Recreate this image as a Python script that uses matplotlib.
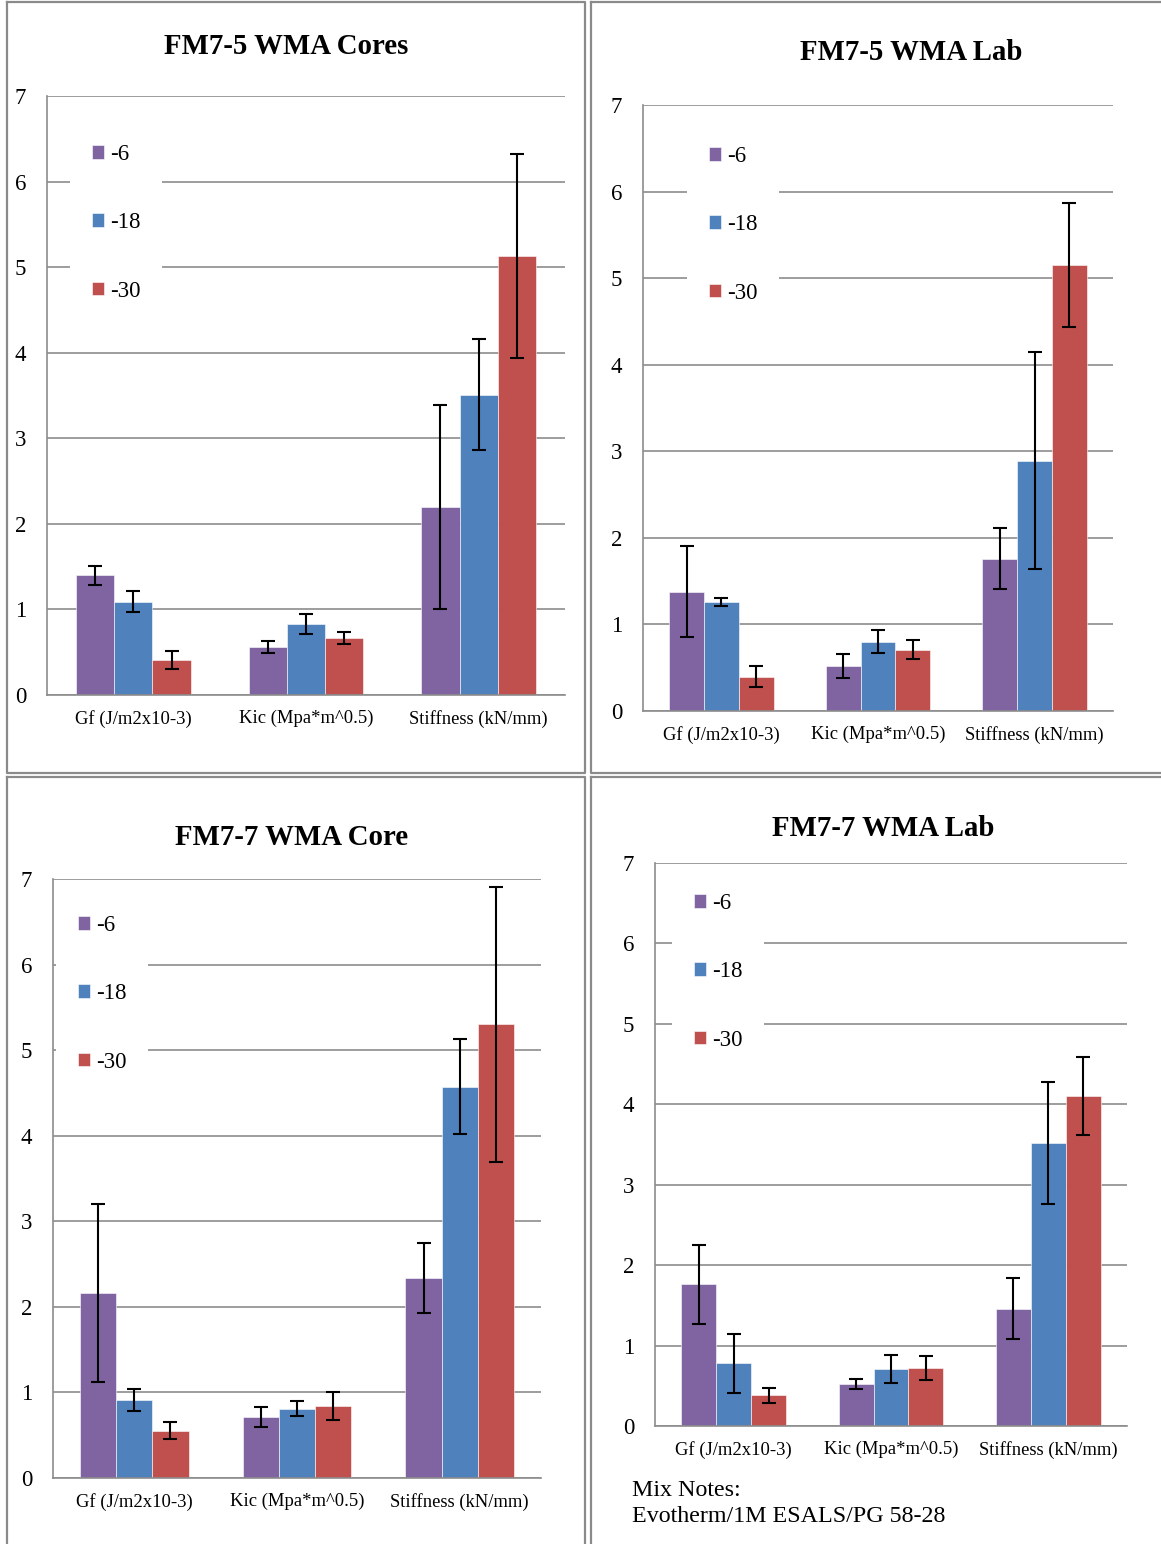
import matplotlib
matplotlib.use("Agg")
import matplotlib.pyplot as plt
import numpy as np
from matplotlib.lines import Line2D

plt.rcParams['font.family'] = ['Liberation Serif', 'DejaVu Serif']

W, H = 1161, 1544

categories = ["Gf (J/m2x10-3)", "Kic (Mpa*m^0.5)", "Stiffness (kN/mm)"]
series = ["-6", "-18", "-30"]
colors = ["#8064A2", "#4F81BD", "#C0504D"]
yticks = [0, 1, 2, 3, 4, 5, 6, 7]

# FM7-5 WMA Cores
cores75_m6 = [1.40, 0.56, 2.20]
cores75_e6 = [0.11, 0.07, 1.19]
cores75_m18 = [1.09, 0.83, 3.51]
cores75_e18 = [0.125, 0.12, 0.645]
cores75_m30 = [0.41, 0.665, 5.13]
cores75_e30 = [0.11, 0.07, 1.19]

# FM7-5 WMA Lab
lab75_m6 = [1.38, 0.52, 1.76]
lab75_e6 = [0.53, 0.14, 0.355]
lab75_m18 = [1.26, 0.80, 2.89]
lab75_e18 = [0.05, 0.13, 1.255]
lab75_m30 = [0.395, 0.71, 5.15]
lab75_e30 = [0.12, 0.115, 0.715]

# FM7-7 WMA Core
core77_m6 = [2.16, 0.715, 2.34]
core77_e6 = [1.04, 0.12, 0.41]
core77_m18 = [0.91, 0.81, 4.57]
core77_e18 = [0.13, 0.09, 0.555]
core77_m30 = [0.55, 0.84, 5.30]
core77_e30 = [0.10, 0.165, 1.61]

# FM7-7 WMA Lab
lab77_m6 = [1.76, 0.52, 1.46]
lab77_e6 = [0.49, 0.06, 0.38]
lab77_m18 = [0.78, 0.71, 3.52]
lab77_e18 = [0.37, 0.175, 0.76]
lab77_m30 = [0.38, 0.72, 4.10]
lab77_e30 = [0.09, 0.145, 0.485]

panels = [
    dict(title="FM7-5 WMA Cores", title_xy=(286, 46),
         means=[cores75_m6, cores75_m18, cores75_m30],
         errs=[cores75_e6, cores75_e18, cores75_e30],
         ax_px=(47, 96, 565, 695), leg_px=(70, 122)),
    dict(title="FM7-5 WMA Lab", title_xy=(911, 52),
         means=[lab75_m6, lab75_m18, lab75_m30],
         errs=[lab75_e6, lab75_e18, lab75_e30],
         ax_px=(643, 105, 1113, 711), leg_px=(687, 124)),
    dict(title="FM7-7 WMA Core", title_xy=(292, 837),
         means=[core77_m6, core77_m18, core77_m30],
         errs=[core77_e6, core77_e18, core77_e30],
         ax_px=(53, 879, 541, 1478), leg_px=(56, 893)),
    dict(title="FM7-7 WMA Lab", title_xy=(883, 828),
         means=[lab77_m6, lab77_m18, lab77_m30],
         errs=[lab77_e6, lab77_e18, lab77_e30],
         ax_px=(655, 863, 1127, 1426), leg_px=(672, 871)),
]

fig = plt.figure(figsize=(W / 100, H / 100), dpi=100)

# panel border boxes
border = "#8a8a8a"
boxes = [(7, 2, 585, 773), (591, 2, 1170, 773), (7, 777, 585, 1550), (591, 777, 1170, 1550)]
for (x0, y0, x1, y1) in boxes:
    xs = [x0 / W, x1 / W, x1 / W, x0 / W, x0 / W]
    ys = [1 - y0 / H, 1 - y0 / H, 1 - y1 / H, 1 - y1 / H, 1 - y0 / H]
    fig.add_artist(Line2D(xs, ys, color=border, lw=1.6, transform=fig.transFigure))

grid_c = "#8c8c8c"
x = np.arange(len(categories))
bw = 0.222

for p in panels:
    l, t, r, b = p["ax_px"]
    ax = fig.add_axes([l / W, 1 - b / H, (r - l) / W, (b - t) / H])
    handles = []
    for i, (m, e) in enumerate(zip(p["means"], p["errs"])):
        bars = ax.bar(x + (i - 1) * bw, m, width=bw, color=colors[i],
                      edgecolor="white", linewidth=0.4, label=series[i], zorder=2)
        ax.errorbar(x + (i - 1) * bw, m, yerr=e, fmt="none", ecolor="black",
                    elinewidth=1.5, capsize=5, capthick=1.5, zorder=3)
        handles.append(bars)
    ax.set_xlim(-0.5, 2.5)
    ax.set_ylim(0, 7)
    ax.set_yticks(yticks)
    ax.set_xticks(x)
    ax.set_xticklabels(categories, fontsize=13.4)
    ax.tick_params(axis="both", length=0)
    ax.tick_params(axis="y", labelsize=16.5, pad=15)
    ax.tick_params(axis="x", pad=10.5)
    ax.yaxis.grid(True, color=grid_c, lw=1.2, zorder=0)
    ax.set_axisbelow(True)
    for s in ["top", "right"]:
        ax.spines[s].set_visible(False)
    for s in ["left", "bottom"]:
        ax.spines[s].set_color(grid_c)
        ax.spines[s].set_linewidth(1.2)
    lx, ly = p["leg_px"]
    leg = ax.legend(handles=handles, labels=series, loc="upper left",
                    bbox_to_anchor=(lx / W, 1 - ly / H), bbox_transform=fig.transFigure,
                    borderaxespad=0, frameon=True, fancybox=False, fontsize=16.5,
                    handlelength=0.55, handleheight=0.55, handletextpad=0.25,
                    labelspacing=2.07, borderpad=0.95)
    leg.get_frame().set_facecolor("white")
    leg.get_frame().set_edgecolor("none")
    leg.get_frame().set_alpha(1)
    fig.text(p["title_xy"][0] / W, 1 - p["title_xy"][1] / H, p["title"],
             ha="center", va="center", fontsize=20.8, fontweight="bold")

fig.text(632 / W, 1 - 1490 / H, "Mix Notes:", ha="left", va="center", fontsize=17.3)
fig.text(632 / W, 1 - 1516 / H, "Evotherm/1M ESALS/PG 58-28", ha="left", va="center", fontsize=17.3)

fig.savefig("out.png", dpi=100)
